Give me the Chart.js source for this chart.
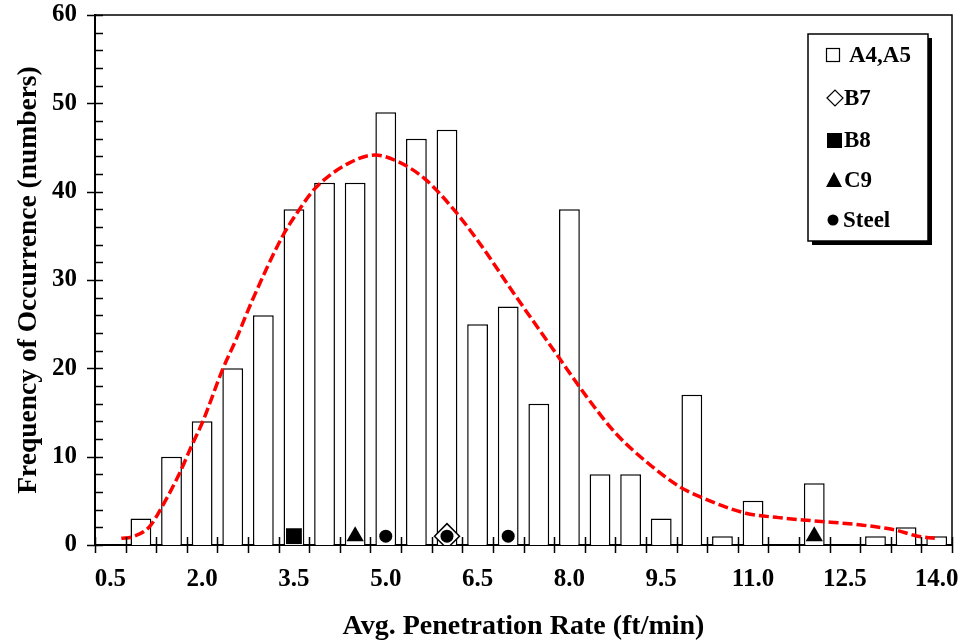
<!DOCTYPE html>
<html>
<head>
<meta charset="utf-8">
<title>Avg. Penetration Rate</title>
<script src="https://cdn.jsdelivr.net/npm/chart.js@4/dist/chart.umd.min.js"></script>
<style>
    body { margin: 0; background: #fff; }
    #wrap { width: 966px; height: 644px; }
</style>
</head>
<body>
<div id="wrap"><canvas id="myChart" width="966" height="644"></canvas></div>
<script>
// Histogram bins (ft/min) and counts
const binCenters = [1.0, 1.5, 2.0, 2.5, 3.0, 3.5, 4.0, 4.5, 5.0, 5.5, 6.0, 6.5, 7.0, 7.5,
                    8.0, 8.5, 9.0, 9.5, 10.0, 10.5, 11.0, 11.5, 12.0, 12.5, 13.0, 13.5, 14.0];
const counts = [3, 10, 14, 20, 26, 38, 41, 41, 49, 46, 47, 25, 27, 16,
                38, 8, 8, 3, 17, 1, 5, 0, 7, 0, 1, 2, 1];

// Axis labels
const xTickLabels = [0.5, 2.0, 3.5, 5.0, 6.5, 8.0, 9.5, 11.0, 12.5, 14.0];
const yTickLabels = [0, 10, 20, 30, 40, 50, 60];

// Fitted curve
const fitX = [0.68, 0.87, 1.14, 1.33, 1.63, 1.82, 2.01, 2.33, 2.55, 2.82, 3.31, 3.58, 3.85,
              4.39, 4.82, 5.20, 5.63, 6.12, 6.55, 7.09, 7.80, 8.28, 8.75, 9.26, 9.80, 10.12,
              10.88, 11.42, 11.96, 12.77, 13.32, 13.69, 13.97];
const fitY = [0.76, 0.94, 2.07, 4.15, 8.1, 11.1, 13.96, 19.8, 23.2, 27.7, 34.9, 37.9, 40.4,
              43.2, 44.15, 43.4, 41.5, 37.9, 34.0, 28.5, 21.5, 16.8, 12.7, 9.4, 6.6, 5.5,
              3.6, 3.1, 2.75, 2.26, 1.7, 1.0, 0.76];

// Single-bit markers
const b7X = [6.0],             b7Y = [1];
const b8X = [3.5],             b8Y = [1];
const c9X = [4.5, 12.0],       c9Y = [1, 1];
const steelX = [5.0, 6.0, 7.0], steelY = [1, 1, 1];

const FONT = 'Liberation Serif';
Chart.defaults.font.family = FONT;
Chart.defaults.color = '#000';

function pts(xs, ys) {
    return xs.map((x, i) => ({ x: x, y: ys[i] }));
}

// no extra edge padding from the tick labels, the plot box is fixed
function noPad(scale) {
    scale.paddingTop = 0;
    scale.paddingBottom = 0;
    scale.paddingLeft = 0;
    scale.paddingRight = 0;
}

// Frame, tick marks crossing the axes
const axisDecor = {
    id: 'axisDecor',
    afterDraw(chart) {
        const ctx = chart.ctx;
        const a = chart.chartArea;
        const xs = chart.scales.x;
        const ys = chart.scales.y;
        ctx.save();
        ctx.strokeStyle = '#000';
        ctx.lineWidth = 1.5;
        ctx.beginPath();
        ctx.moveTo(a.left, a.top);
        ctx.lineTo(a.right, a.top);
        ctx.lineTo(a.right, a.bottom);
        ctx.stroke();

        // x ticks on bin edges
        ctx.beginPath();
        const edges = [binCenters[0] - 0.75].concat(binCenters.map(c => c - 0.25));
        edges.push(binCenters[binCenters.length - 1] + 0.25);
        edges.forEach(v => {
            const px = Math.round(xs.getPixelForValue(v)) + 0.5;
            ctx.moveTo(px, a.bottom - 8);
            ctx.lineTo(px, a.bottom + 8);
        });
        // y ticks: major crossing, minor inside
        for (let v = 0; v <= 60; v += 2) {
            const py = Math.round(ys.getPixelForValue(v)) + 0.5;
            if (v % 10 === 0) {
                ctx.moveTo(a.left - 8, py);
                ctx.lineTo(a.left + 8, py);
            } else {
                ctx.moveTo(a.left, py);
                ctx.lineTo(a.left + 8, py);
            }
        }
        ctx.stroke();
        ctx.restore();
    }
};

// Legend box with shadow
const boxLegend = {
    id: 'boxLegend',
    afterDraw(chart) {
        const ctx = chart.ctx;
        const bx = 808, by = 34, bw = 120, bh = 207;
        ctx.save();
        ctx.fillStyle = '#000';
        ctx.fillRect(bx + 4, by + 4, bw, bh);
        ctx.fillStyle = '#fff';
        ctx.fillRect(bx, by, bw, bh);
        ctx.strokeStyle = '#000';
        ctx.lineWidth = 1.5;
        ctx.strokeRect(bx, by, bw, bh);

        const rows = [
            { text: 'A4,A5', y: 55, tx: 849 },
            { text: 'B7', y: 98, tx: 844 },
            { text: 'B8', y: 140, tx: 844 },
            { text: 'C9', y: 180, tx: 844 },
            { text: 'Steel', y: 220, tx: 843 }
        ];
        // symbols
        ctx.lineWidth = 1.2;
        ctx.fillStyle = '#000';
        ctx.strokeRect(826.5, 48.5, 13, 13);
        ctx.beginPath();
        ctx.moveTo(827, 98); ctx.lineTo(835, 90); ctx.lineTo(843, 98); ctx.lineTo(835, 106);
        ctx.closePath();
        ctx.stroke();
        ctx.fillRect(827, 133, 15, 15);
        ctx.beginPath();
        ctx.moveTo(834, 172); ctx.lineTo(842, 187); ctx.lineTo(826, 187);
        ctx.closePath();
        ctx.fill();
        ctx.beginPath();
        ctx.arc(833, 220, 5.5, 0, Math.PI * 2);
        ctx.fill();

        ctx.font = 'bold 23px ' + FONT;
        ctx.textBaseline = 'middle';
        ctx.textAlign = 'left';
        rows.forEach(r => ctx.fillText(r.text, r.tx, r.y + 1));
        ctx.restore();
    }
};

const ChartCanvas = document.getElementById('myChart');
const myChart = new Chart(ChartCanvas, {
    type: 'bar',
    data: {
        datasets: [
            {
                type: 'line',
                label: 'fit',
                data: pts(fitX, fitY),
                borderColor: '#ff0000',
                borderWidth: 3.5,
                borderDash: [10, 4],
                pointRadius: 0,
                fill: false,
                cubicInterpolationMode: 'monotone',
                order: 0
            },
            {
                type: 'scatter',
                label: 'Steel',
                data: pts(steelX, steelY),
                pointStyle: 'circle',
                pointRadius: 6.5,
                backgroundColor: '#000',
                borderColor: '#000',
                borderWidth: 0,
                order: 1
            },
            {
                type: 'scatter',
                label: 'B7',
                data: pts(b7X, b7Y),
                pointStyle: 'rectRot',
                pointRadius: 12.5,
                backgroundColor: '#fff',
                borderColor: '#000',
                borderWidth: 1.5,
                order: 2
            },
            {
                type: 'scatter',
                label: 'B8',
                data: pts(b8X, b8Y),
                pointStyle: 'rect',
                pointRadius: 11.2,
                backgroundColor: '#000',
                borderColor: '#000',
                borderWidth: 0,
                order: 1
            },
            {
                type: 'scatter',
                label: 'C9',
                data: pts(c9X, c9Y),
                pointStyle: 'triangle',
                pointRadius: 10,
                backgroundColor: '#000',
                borderColor: '#000',
                borderWidth: 0,
                order: 1
            },
            {
                type: 'bar',
                label: 'A4,A5',
                data: pts(binCenters, counts),
                backgroundColor: '#fff',
                borderColor: '#000',
                borderWidth: 1.5,
                barPercentage: 0.68,
                categoryPercentage: 1,
                order: 5
            }
        ]
    },
    options: {
        responsive: false,
        animation: false,
        layout: {
            padding: { top: 15, right: 9, left: 0, bottom: 0 }
        },
        scales: {
            x: {
                type: 'linear',
                offset: false,
                min: 0.25,
                max: 14.25,
                afterBuildTicks: scale => {
                    scale.ticks = xTickLabels.map(v => ({ value: v }));
                },
                afterFit: scale => { scale.height = 99; noPad(scale); },
                grid: { display: false, drawTicks: false },
                border: { display: true, color: '#000', width: 2 },
                ticks: {
                    autoSkip: false,
                    maxRotation: 0,
                    padding: 20,
                    font: { size: 25, weight: 'bold' },
                    callback: v => Number(v).toFixed(1)
                },
                title: {
                    display: true,
                    text: 'Avg. Penetration Rate (ft/min)',
                    font: { size: 28, weight: 'bold' },
                    padding: { top: 0, bottom: 0 }
                }
            },
            y: {
                min: 0,
                max: 60,
                afterBuildTicks: scale => {
                    scale.ticks = yTickLabels.map(v => ({ value: v }));
                },
                afterFit: scale => { scale.width = 95; noPad(scale); },
                grid: { display: false, drawTicks: false },
                border: { display: true, color: '#000', width: 2 },
                ticks: {
                    padding: 18,
                    font: { size: 25, weight: 'bold' }
                },
                title: {
                    display: true,
                    text: 'Frequency of Occurrence (numbers)',
                    font: { size: 27.5, weight: 'bold' },
                    padding: { top: 12, bottom: 0 }
                }
            }
        },
        plugins: {
            legend: { display: false },
            tooltip: { enabled: false }
        }
    },
    plugins: [axisDecor, boxLegend]
});
</script>
</body>
</html>
